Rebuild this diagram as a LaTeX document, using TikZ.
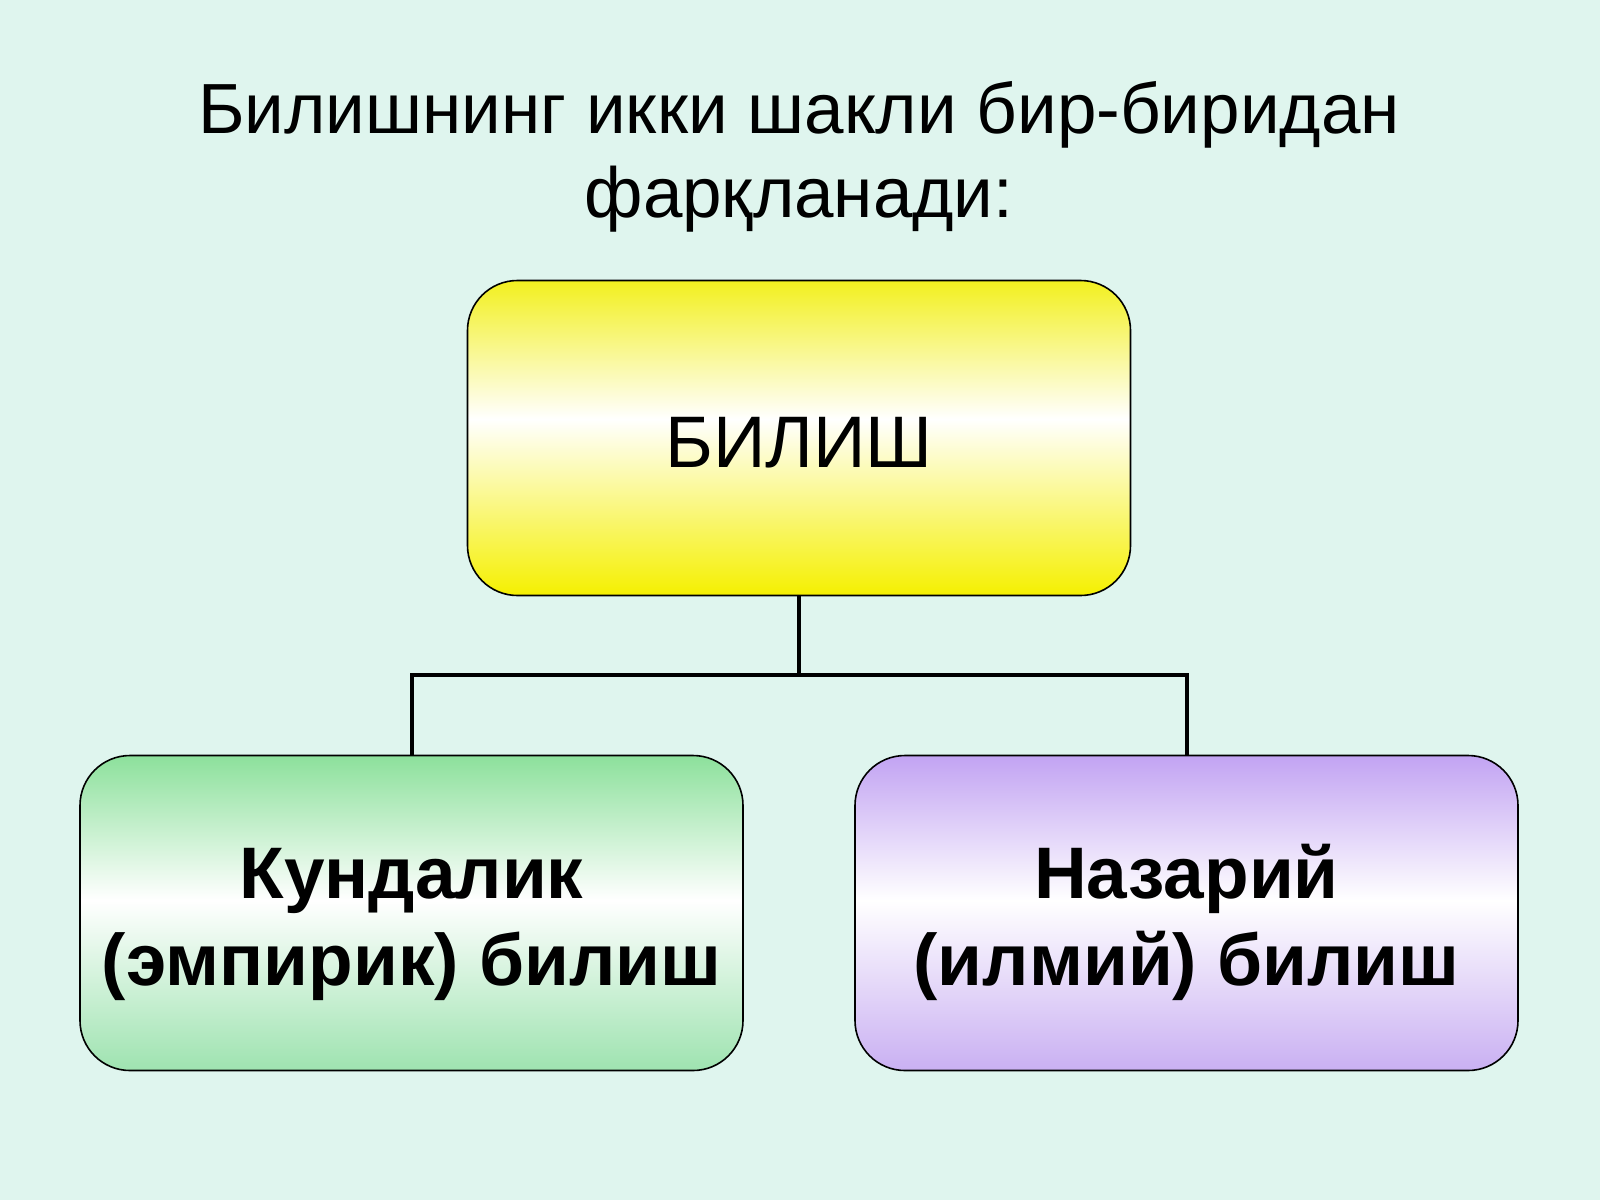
\documentclass[tikz,border=0pt]{standalone}
\usepackage{fontspec}
\setmainfont{Liberation Sans}
\definecolor{bgc}{HTML}{DFF5EE}
\pgfdeclareverticalshading{yelshade}{100bp}{rgb(0bp)=(0.96,0.94,0); rgb(25bp)=(0.96,0.94,0); rgb(53bp)=(1,1,1); rgb(75bp)=(0.95,0.94,0.12); rgb(100bp)=(0.95,0.94,0.12)}
\pgfdeclareverticalshading{grnshade}{100bp}{rgb(0bp)=(0.62,0.89,0.69); rgb(25bp)=(0.62,0.89,0.69); rgb(52bp)=(1,1,1); rgb(75bp)=(0.55,0.88,0.61); rgb(100bp)=(0.55,0.88,0.61)}
\pgfdeclareverticalshading{prpshade}{100bp}{rgb(0bp)=(0.79,0.69,0.95); rgb(25bp)=(0.79,0.69,0.95); rgb(52bp)=(1,1,1); rgb(75bp)=(0.76,0.64,0.95); rgb(100bp)=(0.76,0.64,0.95)}
\tikzset{
  boxnode/.style={draw=black, line width=1.6pt, rounded corners=50pt, minimum width=663pt, minimum height=315pt, inner sep=0pt},
  conn/.style={draw=black, line width=4pt},
  titletext/.style={anchor=base, font=\fontsize{71}{84}\selectfont, inner sep=0pt},
  boldtext/.style={anchor=base, font=\fontsize{73}{88}\selectfont\bfseries, inner sep=0pt}
}
\begin{document}
\begin{tikzpicture}[x=1pt,y=-1pt]
\useasboundingbox (0,0) rectangle (1600,1200);
\fill[bgc] (0,0) rectangle (1600,1200);
% title
\node[titletext] (t1) at (799,133) {Билишнинг икки шакли бир-биридан};
\node[titletext] (t2) at (799,217) {фарқланади:};
% boxes
\node[boxnode, shading=yelshade] (top) at (799,438) {};
\node[titletext, font=\fontsize{73}{86}\selectfont] (toptext) at (799,467) {БИЛИШ};
\node[boxnode, shading=grnshade] (left) at (411.5,913) {};
\node[boxnode, shading=prpshade] (right) at (1186.5,913) {};
\node[boldtext] (l1) at (411.5,898) {Кундалик};
\node[boldtext] (l2) at (411.5,985) {(эмпирик) билиш};
\node[boldtext] (r1) at (1186.5,898) {Назарий};
\node[boldtext] (r2) at (1186.5,985) {(илмий) билиш};
% connectors
\coordinate (mid) at (799,675);
\draw[conn] (top.south) -- (mid);
\draw[conn] (left.north) |- (mid) -| (right.north);
\end{tikzpicture}
\end{document}
